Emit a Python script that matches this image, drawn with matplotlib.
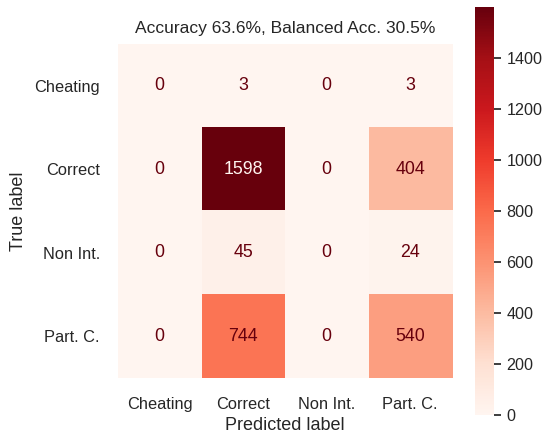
import numpy as np
import matplotlib
matplotlib.use('Agg')
import matplotlib.pyplot as plt
import seaborn as sns

sns.set_theme(style='whitegrid')
plt.rcParams['font.family'] = ['Liberation Sans', 'DejaVu Sans']

# confusion matrix (rows: true, cols: predicted)
labels = ['Cheating', 'Correct', 'Non Int.', 'Part. C.']
cm = np.array([
    [0, 3, 0, 3],
    [0, 1598, 0, 404],
    [0, 45, 0, 24],
    [0, 744, 0, 540],
])
accuracy = 63.6
balanced_acc = 30.5

fig = plt.figure(figsize=(5.48, 4.33), dpi=100)
ax = fig.add_axes([0.2153, 0.127, 0.6095, 0.7714])
cax = fig.add_axes([0.8668, 0.0416, 0.0347, 0.9423])

cmap = plt.get_cmap('Reds')
im = ax.imshow(cm, cmap=cmap, interpolation='nearest')
ax.grid(False)

thresh = (cm.max() + cm.min()) / 2.0
for i in range(cm.shape[0]):
    for j in range(cm.shape[1]):
        color = cmap(0.0) if cm[i, j] > thresh else cmap(1.0)
        ax.text(j, i, str(cm[i, j]), ha='center', va='center', color=color, fontsize=12.8)

ax.set_xticks(range(len(labels)))
ax.set_xticklabels(labels, fontsize=11.8)
ax.set_yticks(range(len(labels)))
ax.set_yticklabels(labels, fontsize=11.8)
ax.tick_params(axis='y', pad=7)
ax.tick_params(axis='x', pad=8)
ax.set_xlabel('Predicted label', fontsize=13, labelpad=3)
ax.set_ylabel('True label', fontsize=13, labelpad=5)
ax.set_title(f'Accuracy {accuracy}%, Balanced Acc. {balanced_acc}%', fontsize=12.5, pad=8)
for s in ax.spines.values():
    s.set_visible(False)

cb = fig.colorbar(im, cax=cax)
cb.outline.set_visible(False)
cb.ax.tick_params(length=5, width=1.25, color='#262626', labelsize=11.6, pad=4)

fig.savefig('out.png', dpi=100)
